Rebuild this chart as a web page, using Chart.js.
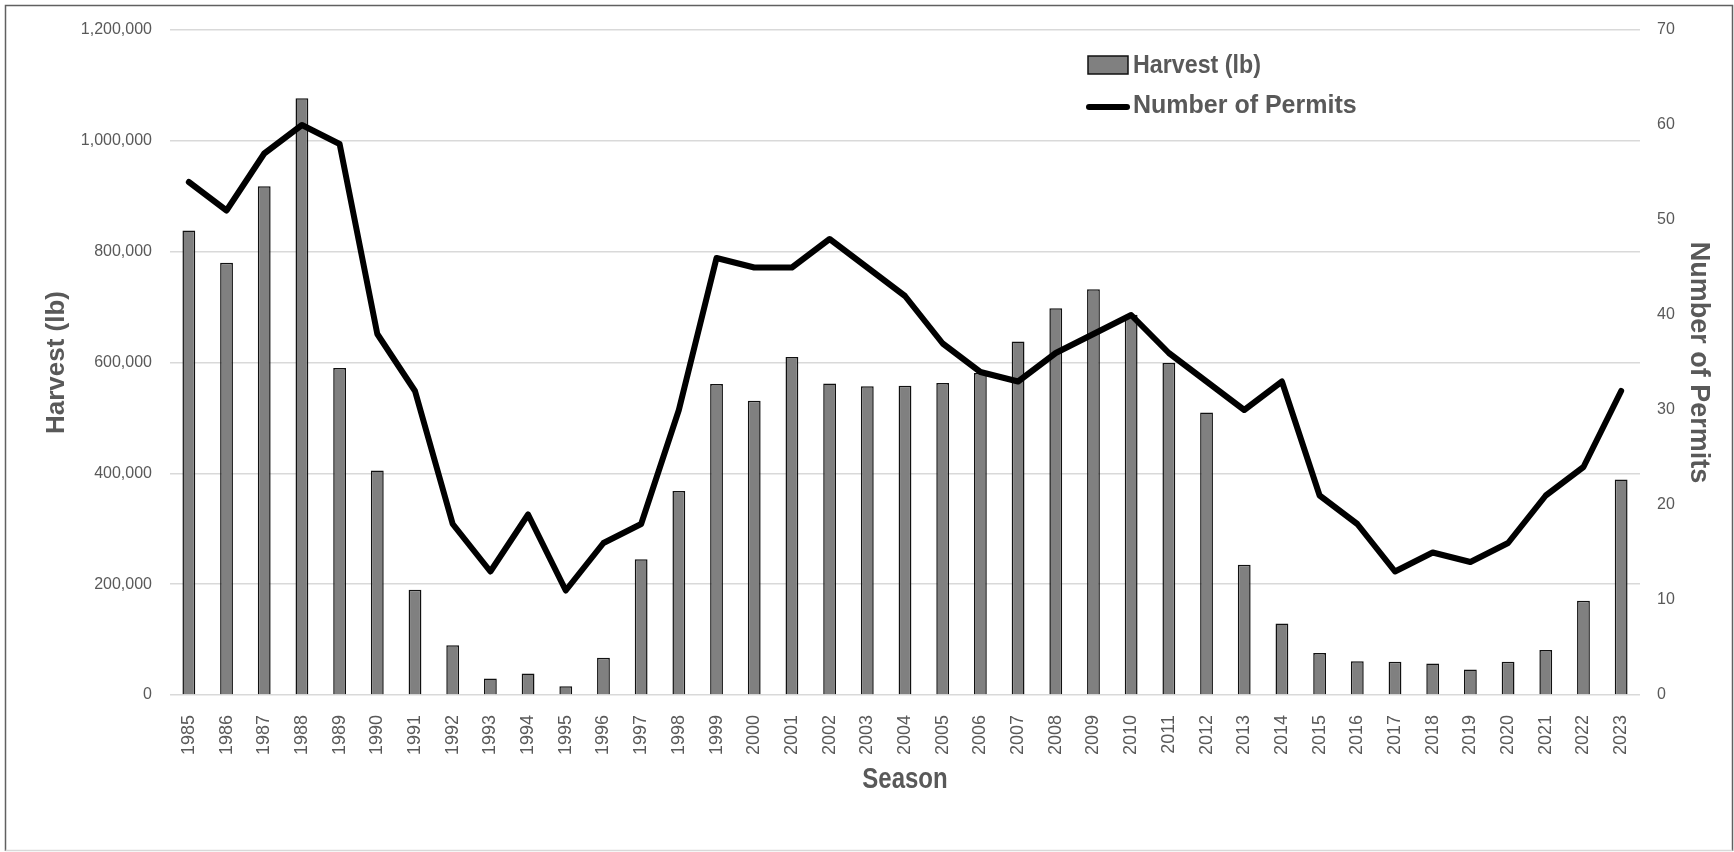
<!DOCTYPE html>
<html>
<head>
<meta charset="utf-8">
<title>Harvest and Number of Permits by Season</title>
<script src="https://cdn.jsdelivr.net/npm/chart.js@4.4.1/dist/chart.umd.min.js"></script>
<style>
  html, body { margin: 0; padding: 0; background: #ffffff; }
  #wrap { position: relative; width: 1734px; height: 852px; }
</style>
</head>
<body>
<div id="wrap"><canvas id="chart"></canvas></div>
<script>
// Seasons on the category axis
const seasons = ['1985','1986','1987','1988','1989','1990','1991','1992','1993','1994',
  '1995','1996','1997','1998','1999','2000','2001','2002','2003','2004',
  '2005','2006','2007','2008','2009','2010','2011','2012','2013','2014',
  '2015','2016','2017','2018','2019','2020','2021','2022','2023'];

// Harvest per season, pounds
const harvestLb = [838000, 780000, 918000, 1077000, 590000,
  405000, 190000, 90000, 30000, 39000,
  16000, 67000, 245000, 368000, 561000,
  531000, 610000, 562000, 557000, 558000,
  563000, 581000, 638000, 698000, 732000,
  686000, 599000, 510000, 235000, 129000,
  76000, 61000, 60000, 57000, 46000,
  60000, 81000, 170000, 389000];

// Permits issued per season
const permits = [54, 51, 57, 60, 58,
  38, 32, 18, 13, 19,
  11, 16, 18, 30, 46,
  45, 45, 48, 45, 42,
  37, 34, 33, 36, 38,
  40, 36, 33, 30, 33,
  21, 18, 13, 15, 14,
  16, 21, 24, 32];

// Axis tick values
const harvestTicks = [0, 200000, 400000, 600000, 800000, 1000000, 1200000];
const permitTicks = [0, 10, 20, 30, 40, 50, 60, 70];

const TEXT = '#595959';
const SANS = '"Liberation Sans", Arial, sans-serif';

// Frame, x-axis title and legend drawn on top of the chart
const decorations = {
  id: 'decorations',
  afterDraw(chart) {
    const ctx = chart.ctx;
    ctx.save();

    // outer frame
    ctx.lineWidth = 1.5;
    ctx.strokeStyle = '#606060';
    ctx.beginPath();
    ctx.moveTo(5.5, 851);
    ctx.lineTo(5.5, 5.5);
    ctx.lineTo(1732.5, 5.5);
    ctx.lineTo(1732.5, 851);
    ctx.stroke();
    ctx.strokeStyle = '#d9d9d9';
    ctx.beginPath();
    ctx.moveTo(5.5, 850.5);
    ctx.lineTo(1732.5, 850.5);
    ctx.stroke();

    // x-axis title (condensed bold)
    ctx.save();
    ctx.translate(905, 788);
    ctx.scale(0.8, 1);
    ctx.fillStyle = TEXT;
    ctx.font = 'bold 30px ' + SANS;
    ctx.textAlign = 'center';
    ctx.textBaseline = 'alphabetic';
    ctx.fillText('Season', 0, 0);
    ctx.restore();

    // legend
    const ds = chart.data.datasets;
    const bar = ds[0], line = ds[1];
    ctx.fillStyle = bar.backgroundColor;
    ctx.fillRect(1088, 56, 40, 18);
    ctx.lineWidth = 1.5;
    ctx.strokeStyle = bar.borderColor;
    ctx.strokeRect(1088, 56, 40, 18);

    ctx.lineCap = 'round';
    ctx.lineWidth = line.borderWidth;
    ctx.strokeStyle = line.borderColor;
    ctx.beginPath();
    ctx.moveTo(1089, 107);
    ctx.lineTo(1127, 107);
    ctx.stroke();

    ctx.fillStyle = TEXT;
    ctx.font = 'bold 25px ' + SANS;
    ctx.textBaseline = 'alphabetic';
    ctx.textAlign = 'left';
    ctx.save();
    ctx.translate(1133, 73);
    ctx.scale(0.93, 1);
    ctx.fillText(bar.label, 0, 0);
    ctx.restore();
    ctx.fillText(line.label, 1133, 113);

    ctx.restore();
  }
};

new Chart(document.getElementById('chart'), {
  type: 'bar',
  data: {
    labels: seasons,
    datasets: [
      {
        type: 'bar',
        label: 'Harvest (lb)',
        data: harvestLb,
        yAxisID: 'y',
        backgroundColor: '#808080',
        borderColor: '#111111',
        borderWidth: 1.5,
        barPercentage: 0.34,
        categoryPercentage: 1.0,
        order: 2
      },
      {
        type: 'line',
        label: 'Number of Permits',
        data: permits,
        yAxisID: 'y1',
        borderColor: '#000000',
        backgroundColor: '#000000',
        borderWidth: 6,
        pointRadius: 0,
        pointHoverRadius: 0,
        tension: 0,
        borderJoinStyle: 'round',
        borderCapStyle: 'round',
        fill: false,
        order: 1
      }
    ]
  },
  options: {
    responsive: true,
    maintainAspectRatio: false,
    animation: false,
    layout: { padding: { top: 30, right: 0, bottom: 0, left: 0 } },
    plugins: {
      legend: { display: false },
      tooltip: { enabled: false }
    },
    scales: {
      x: {
        offset: true,
        grid: { display: false },
        border: { display: false },
        ticks: {
          color: TEXT,
          font: { family: SANS, size: 18 },
          minRotation: 90,
          maxRotation: 90,
          padding: 12,
          autoSkip: false
        },
        afterFit(scale) { scale.height = 157; }
      },
      y: {
        position: 'left',
        min: 0,
        max: 1200000,
        afterBuildTicks(scale) { scale.ticks = harvestTicks.map(v => ({ value: v })); },
        grid: { color: '#d9d9d9', lineWidth: 1.5, drawTicks: false },
        border: { display: false },
        ticks: {
          color: TEXT,
          font: { family: SANS, size: 16 },
          padding: 18,
          callback: v => Number(v).toLocaleString('en-US')
        },
        title: {
          display: true,
          text: 'Harvest (lb)',
          color: TEXT,
          font: { family: SANS, size: 26, weight: 'bold', lineHeight: 1 },
          padding: { top: 44, bottom: 0 }
        },
        afterFit(scale) { scale.width = 170; }
      },
      y1: {
        position: 'right',
        min: 0,
        max: 70,
        afterBuildTicks(scale) { scale.ticks = permitTicks.map(v => ({ value: v })); },
        grid: { display: false, drawTicks: false },
        border: { display: false },
        ticks: {
          color: TEXT,
          font: { family: SANS, size: 16 },
          padding: 17
        },
        title: {
          display: true,
          text: 'Number of Permits',
          color: TEXT,
          font: { family: SANS, size: 27, weight: 'bold', lineHeight: 1 },
          padding: { top: 22, bottom: 0 }
        },
        afterFit(scale) { scale.width = 94; }
      }
    }
  },
  plugins: [decorations]
});
</script>
</body>
</html>
